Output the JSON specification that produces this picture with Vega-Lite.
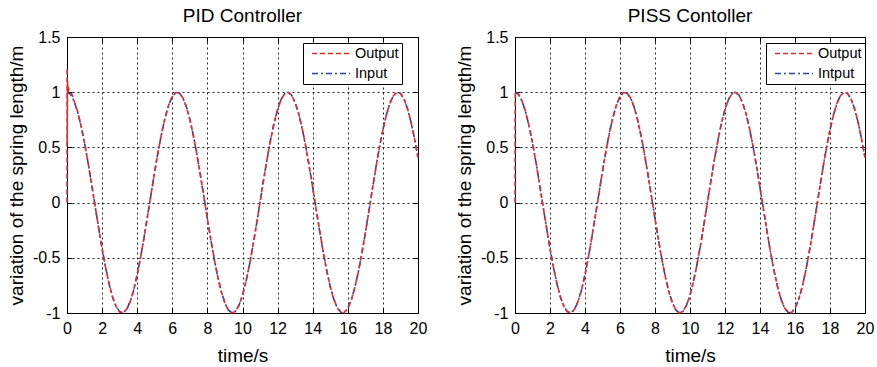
{
  "$schema": "https://vega.github.io/schema/vega-lite/v6.json",
  "autosize": {"type": "pad"},
  "padding": {"left": 6, "top": 6, "right": 3, "bottom": 4},
  "background": "white",
  "bounds": "flush",
  "spacing": 97,
  "config": {
    "font": "Liberation Sans",
    "view": {"stroke": "black", "strokeWidth": 1},
    "axis": {
      "labelFont": "Liberation Sans",
      "labelFontSize": 16,
      "labelColor": "black",
      "labelFlush": false,
      "labelExpr": "'' + datum.value",
      "titleFont": "Liberation Sans",
      "titleFontSize": 19,
      "titleFontWeight": "normal",
      "titleColor": "black",
      "domainColor": "black",
      "tickColor": "black",
      "tickSize": -5,
      "gridColor": "#222222",
      "gridDash": [2, 3],
      "gridWidth": 1,
      "labelPadding": 12
    },
    "legend": {
      "title": null,
      "symbolType": "stroke",
      "symbolSize": 1444,
      "symbolStrokeWidth": 1.6,
      "symbolOffset": 5,
      "clipHeight": 15,
      "labelFont": "Liberation Sans",
      "labelFontSize": 14.5,
      "labelColor": "black",
      "labelOffset": 4,
      "strokeColor": "black",
      "fillColor": "white",
      "padding": 3,
      "rowPadding": 4
    },
    "title": {"font": "Liberation Sans", "fontSize": 19, "fontWeight": "normal", "color": "black", "offset": 3}
  },
  "datasets": {
    "input": [
      {"t":0,"y":1},{"t":0.2,"y":0.98},{"t":0.4,"y":0.921},{"t":0.6,"y":0.825},{"t":0.8,"y":0.697},
      {"t":1,"y":0.54},{"t":1.2,"y":0.362},{"t":1.4,"y":0.17},{"t":1.6,"y":-0.029},{"t":1.8,"y":-0.227},
      {"t":2,"y":-0.416},{"t":2.2,"y":-0.589},{"t":2.4,"y":-0.737},{"t":2.6,"y":-0.857},{"t":2.8,"y":-0.942},
      {"t":3,"y":-0.99},{"t":3.2,"y":-0.998},{"t":3.4,"y":-0.967},{"t":3.6,"y":-0.897},{"t":3.8,"y":-0.791},
      {"t":4,"y":-0.654},{"t":4.2,"y":-0.49},{"t":4.4,"y":-0.307},{"t":4.6,"y":-0.112},{"t":4.8,"y":0.087},
      {"t":5,"y":0.284},{"t":5.2,"y":0.469},{"t":5.4,"y":0.635},{"t":5.6,"y":0.776},{"t":5.8,"y":0.886},
      {"t":6,"y":0.96},{"t":6.2,"y":0.997},{"t":6.4,"y":0.993},{"t":6.6,"y":0.95},{"t":6.8,"y":0.869},
      {"t":7,"y":0.754},{"t":7.2,"y":0.608},{"t":7.4,"y":0.439},{"t":7.6,"y":0.251},{"t":7.8,"y":0.054},
      {"t":8,"y":-0.146},{"t":8.2,"y":-0.339},{"t":8.4,"y":-0.519},{"t":8.6,"y":-0.679},{"t":8.8,"y":-0.811},
      {"t":9,"y":-0.911},{"t":9.2,"y":-0.975},{"t":9.4,"y":-1},{"t":9.6,"y":-0.985},{"t":9.8,"y":-0.93},
      {"t":10,"y":-0.839},{"t":10.2,"y":-0.714},{"t":10.4,"y":-0.561},{"t":10.6,"y":-0.386},{"t":10.8,"y":-0.195},
      {"t":11,"y":0.004},{"t":11.2,"y":0.203},{"t":11.4,"y":0.394},{"t":11.6,"y":0.568},{"t":11.8,"y":0.721},
      {"t":12,"y":0.844},{"t":12.2,"y":0.934},{"t":12.4,"y":0.986},{"t":12.6,"y":0.999},{"t":12.8,"y":0.973},
      {"t":13,"y":0.907},{"t":13.2,"y":0.806},{"t":13.4,"y":0.672},{"t":13.6,"y":0.512},{"t":13.8,"y":0.331},
      {"t":14,"y":0.137},{"t":14.2,"y":-0.063},{"t":14.4,"y":-0.26},{"t":14.6,"y":-0.447},{"t":14.8,"y":-0.616},
      {"t":15,"y":-0.76},{"t":15.2,"y":-0.874},{"t":15.4,"y":-0.953},{"t":15.6,"y":-0.994},{"t":15.8,"y":-0.996},
      {"t":16,"y":-0.958},{"t":16.2,"y":-0.881},{"t":16.4,"y":-0.77},{"t":16.6,"y":-0.628},{"t":16.8,"y":-0.461},
      {"t":17,"y":-0.275},{"t":17.2,"y":-0.079},{"t":17.4,"y":0.121},{"t":17.6,"y":0.316},{"t":17.8,"y":0.498},
      {"t":18,"y":0.66},{"t":18.2,"y":0.796},{"t":18.4,"y":0.901},{"t":18.6,"y":0.969},{"t":18.8,"y":0.999},
      {"t":19,"y":0.989},{"t":19.2,"y":0.939},{"t":19.4,"y":0.852},{"t":19.6,"y":0.731},{"t":19.8,"y":0.581},
      {"t":20,"y":0.408}
    ],
    "pidOutput": [
      {"t":0,"y":0},{"t":0.005,"y":1.22},{"t":0.015,"y":0.55},{"t":0.03,"y":1.1},{"t":0.06,"y":1.0},
      {"t":0.1,"y":1.03},{"t":0.2,"y":1.0},{"t":0.3,"y":0.975},{"t":0.4,"y":0.925},{"t":0.6,"y":0.825},{"t":0.8,"y":0.697},
      {"t":1,"y":0.54},{"t":1.2,"y":0.362},{"t":1.4,"y":0.17},{"t":1.6,"y":-0.029},{"t":1.8,"y":-0.227},
      {"t":2,"y":-0.416},{"t":2.2,"y":-0.589},{"t":2.4,"y":-0.737},{"t":2.6,"y":-0.857},{"t":2.8,"y":-0.942},
      {"t":3,"y":-0.99},{"t":3.2,"y":-0.998},{"t":3.4,"y":-0.967},{"t":3.6,"y":-0.897},{"t":3.8,"y":-0.791},
      {"t":4,"y":-0.654},{"t":4.2,"y":-0.49},{"t":4.4,"y":-0.307},{"t":4.6,"y":-0.112},{"t":4.8,"y":0.087},
      {"t":5,"y":0.284},{"t":5.2,"y":0.469},{"t":5.4,"y":0.635},{"t":5.6,"y":0.776},{"t":5.8,"y":0.886},
      {"t":6,"y":0.96},{"t":6.2,"y":0.997},{"t":6.4,"y":0.993},{"t":6.6,"y":0.95},{"t":6.8,"y":0.869},
      {"t":7,"y":0.754},{"t":7.2,"y":0.608},{"t":7.4,"y":0.439},{"t":7.6,"y":0.251},{"t":7.8,"y":0.054},
      {"t":8,"y":-0.146},{"t":8.2,"y":-0.339},{"t":8.4,"y":-0.519},{"t":8.6,"y":-0.679},{"t":8.8,"y":-0.811},
      {"t":9,"y":-0.911},{"t":9.2,"y":-0.975},{"t":9.4,"y":-1},{"t":9.6,"y":-0.985},{"t":9.8,"y":-0.93},
      {"t":10,"y":-0.839},{"t":10.2,"y":-0.714},{"t":10.4,"y":-0.561},{"t":10.6,"y":-0.386},{"t":10.8,"y":-0.195},
      {"t":11,"y":0.004},{"t":11.2,"y":0.203},{"t":11.4,"y":0.394},{"t":11.6,"y":0.568},{"t":11.8,"y":0.721},
      {"t":12,"y":0.844},{"t":12.2,"y":0.934},{"t":12.4,"y":0.986},{"t":12.6,"y":0.999},{"t":12.8,"y":0.973},
      {"t":13,"y":0.907},{"t":13.2,"y":0.806},{"t":13.4,"y":0.672},{"t":13.6,"y":0.512},{"t":13.8,"y":0.331},
      {"t":14,"y":0.137},{"t":14.2,"y":-0.063},{"t":14.4,"y":-0.26},{"t":14.6,"y":-0.447},{"t":14.8,"y":-0.616},
      {"t":15,"y":-0.76},{"t":15.2,"y":-0.874},{"t":15.4,"y":-0.953},{"t":15.6,"y":-0.994},{"t":15.8,"y":-0.996},
      {"t":16,"y":-0.958},{"t":16.2,"y":-0.881},{"t":16.4,"y":-0.77},{"t":16.6,"y":-0.628},{"t":16.8,"y":-0.461},
      {"t":17,"y":-0.275},{"t":17.2,"y":-0.079},{"t":17.4,"y":0.121},{"t":17.6,"y":0.316},{"t":17.8,"y":0.498},
      {"t":18,"y":0.66},{"t":18.2,"y":0.796},{"t":18.4,"y":0.901},{"t":18.6,"y":0.969},{"t":18.8,"y":0.999},
      {"t":19,"y":0.989},{"t":19.2,"y":0.939},{"t":19.4,"y":0.852},{"t":19.6,"y":0.731},{"t":19.8,"y":0.581},
      {"t":20,"y":0.408}
    ],
    "pissOutput": [
      {"t":0,"y":0},{"t":0.01,"y":1.0},{"t":0.2,"y":0.98},{"t":0.4,"y":0.921},{"t":0.6,"y":0.825},{"t":0.8,"y":0.697},
      {"t":1,"y":0.54},{"t":1.2,"y":0.362},{"t":1.4,"y":0.17},{"t":1.6,"y":-0.029},{"t":1.8,"y":-0.227},
      {"t":2,"y":-0.416},{"t":2.2,"y":-0.589},{"t":2.4,"y":-0.737},{"t":2.6,"y":-0.857},{"t":2.8,"y":-0.942},
      {"t":3,"y":-0.99},{"t":3.2,"y":-0.998},{"t":3.4,"y":-0.967},{"t":3.6,"y":-0.897},{"t":3.8,"y":-0.791},
      {"t":4,"y":-0.654},{"t":4.2,"y":-0.49},{"t":4.4,"y":-0.307},{"t":4.6,"y":-0.112},{"t":4.8,"y":0.087},
      {"t":5,"y":0.284},{"t":5.2,"y":0.469},{"t":5.4,"y":0.635},{"t":5.6,"y":0.776},{"t":5.8,"y":0.886},
      {"t":6,"y":0.96},{"t":6.2,"y":0.997},{"t":6.4,"y":0.993},{"t":6.6,"y":0.95},{"t":6.8,"y":0.869},
      {"t":7,"y":0.754},{"t":7.2,"y":0.608},{"t":7.4,"y":0.439},{"t":7.6,"y":0.251},{"t":7.8,"y":0.054},
      {"t":8,"y":-0.146},{"t":8.2,"y":-0.339},{"t":8.4,"y":-0.519},{"t":8.6,"y":-0.679},{"t":8.8,"y":-0.811},
      {"t":9,"y":-0.911},{"t":9.2,"y":-0.975},{"t":9.4,"y":-1},{"t":9.6,"y":-0.985},{"t":9.8,"y":-0.93},
      {"t":10,"y":-0.839},{"t":10.2,"y":-0.714},{"t":10.4,"y":-0.561},{"t":10.6,"y":-0.386},{"t":10.8,"y":-0.195},
      {"t":11,"y":0.004},{"t":11.2,"y":0.203},{"t":11.4,"y":0.394},{"t":11.6,"y":0.568},{"t":11.8,"y":0.721},
      {"t":12,"y":0.844},{"t":12.2,"y":0.934},{"t":12.4,"y":0.986},{"t":12.6,"y":0.999},{"t":12.8,"y":0.973},
      {"t":13,"y":0.907},{"t":13.2,"y":0.806},{"t":13.4,"y":0.672},{"t":13.6,"y":0.512},{"t":13.8,"y":0.331},
      {"t":14,"y":0.137},{"t":14.2,"y":-0.063},{"t":14.4,"y":-0.26},{"t":14.6,"y":-0.447},{"t":14.8,"y":-0.616},
      {"t":15,"y":-0.76},{"t":15.2,"y":-0.874},{"t":15.4,"y":-0.953},{"t":15.6,"y":-0.994},{"t":15.8,"y":-0.996},
      {"t":16,"y":-0.958},{"t":16.2,"y":-0.881},{"t":16.4,"y":-0.77},{"t":16.6,"y":-0.628},{"t":16.8,"y":-0.461},
      {"t":17,"y":-0.275},{"t":17.2,"y":-0.079},{"t":17.4,"y":0.121},{"t":17.6,"y":0.316},{"t":17.8,"y":0.498},
      {"t":18,"y":0.66},{"t":18.2,"y":0.796},{"t":18.4,"y":0.901},{"t":18.6,"y":0.969},{"t":18.8,"y":0.999},
      {"t":19,"y":0.989},{"t":19.2,"y":0.939},{"t":19.4,"y":0.852},{"t":19.6,"y":0.731},{"t":19.8,"y":0.581},
      {"t":20,"y":0.408}
    ]
  },
  "resolve": {
    "scale": {"color": "independent", "strokeDash": "independent"},
    "legend": {"color": "independent", "strokeDash": "independent"}
  },
  "hconcat": [
    {
      "width": 351,
      "height": 276,
      "title": {"text": "PID Controller"},
      "layer": [
        {
          "data": {"name": "input"},
          "mark": {"type": "line", "strokeWidth": 1.6},
          "encoding": {
            "x": {"field": "t", "type": "quantitative", "scale": {"domain": [0, 20], "nice": false},
                  "axis": {"title": "time/s", "values": [0, 2, 4, 6, 8, 10, 12, 14, 16, 18, 20], "grid": true, "titlePadding": 10}},
            "y": {"field": "y", "type": "quantitative", "scale": {"domain": [-1, 1.5], "nice": false},
                  "axis": {"title": "variation of the spring length/m", "values": [-1, -0.5, 0, 0.5, 1, 1.5], "grid": true, "titlePadding": 6}},
            "color": {"datum": "Input", "scale": {"domain": ["Output", "Input"], "range": ["#e62b2b", "#2e3fae"]},
                      "legend": {"orient": "none", "legendX": 236, "legendY": 6}},
            "strokeDash": {"datum": "Input", "scale": {"domain": ["Output", "Input"], "range": [[5, 3], [6, 3, 2, 3]]},
                           "legend": {"orient": "none", "legendX": 236, "legendY": 6}}
          }
        },
        {
          "data": {"name": "pidOutput"},
          "mark": {"type": "line", "strokeWidth": 1.6},
          "encoding": {
            "x": {"field": "t", "type": "quantitative", "scale": {"domain": [0, 20], "nice": false}, "axis": null},
            "y": {"field": "y", "type": "quantitative", "scale": {"domain": [-1, 1.5], "nice": false}, "axis": null},
            "color": {"datum": "Output"},
            "strokeDash": {"datum": "Output"}
          }
        },
        {
          "data": {"name": "input"},
          "mark": {"type": "line", "opacity": 0},
          "encoding": {
            "x": {"field": "t", "type": "quantitative", "scale": {"domain": [0, 20], "nice": false},
                  "axis": {"orient": "top", "labels": false, "title": null, "grid": false, "values": [0, 2, 4, 6, 8, 10, 12, 14, 16, 18, 20]}},
            "y": {"field": "y", "type": "quantitative", "scale": {"domain": [-1, 1.5], "nice": false},
                  "axis": {"orient": "right", "labels": false, "title": null, "grid": false, "values": [-1, -0.5, 0, 0.5, 1, 1.5]}}
          }
        }
      ],
      "resolve": {"scale": {"x": "independent", "y": "independent"}}
    },
    {
      "width": 350,
      "height": 276,
      "title": {"text": "PISS Contoller"},
      "layer": [
        {
          "data": {"name": "input"},
          "mark": {"type": "line", "strokeWidth": 1.6},
          "encoding": {
            "x": {"field": "t", "type": "quantitative", "scale": {"domain": [0, 20], "nice": false},
                  "axis": {"title": "time/s", "values": [0, 2, 4, 6, 8, 10, 12, 14, 16, 18, 20], "grid": true, "titlePadding": 10}},
            "y": {"field": "y", "type": "quantitative", "scale": {"domain": [-1, 1.5], "nice": false},
                  "axis": {"title": "variation of the spring length/m", "values": [-1, -0.5, 0, 0.5, 1, 1.5], "grid": true, "titlePadding": 6}},
            "color": {"datum": "Intput", "scale": {"domain": ["Output", "Intput"], "range": ["#e62b2b", "#2e3fae"]},
                      "legend": {"orient": "none", "legendX": 251, "legendY": 6}},
            "strokeDash": {"datum": "Intput", "scale": {"domain": ["Output", "Intput"], "range": [[5, 3], [6, 3, 2, 3]]},
                           "legend": {"orient": "none", "legendX": 251, "legendY": 6}}
          }
        },
        {
          "data": {"name": "pissOutput"},
          "mark": {"type": "line", "strokeWidth": 1.6},
          "encoding": {
            "x": {"field": "t", "type": "quantitative", "scale": {"domain": [0, 20], "nice": false}, "axis": null},
            "y": {"field": "y", "type": "quantitative", "scale": {"domain": [-1, 1.5], "nice": false}, "axis": null},
            "color": {"datum": "Output"},
            "strokeDash": {"datum": "Output"}
          }
        },
        {
          "data": {"name": "input"},
          "mark": {"type": "line", "opacity": 0},
          "encoding": {
            "x": {"field": "t", "type": "quantitative", "scale": {"domain": [0, 20], "nice": false},
                  "axis": {"orient": "top", "labels": false, "title": null, "grid": false, "values": [0, 2, 4, 6, 8, 10, 12, 14, 16, 18, 20]}},
            "y": {"field": "y", "type": "quantitative", "scale": {"domain": [-1, 1.5], "nice": false},
                  "axis": {"orient": "right", "labels": false, "title": null, "grid": false, "values": [-1, -0.5, 0, 0.5, 1, 1.5]}}
          }
        }
      ],
      "resolve": {"scale": {"x": "independent", "y": "independent"}}
    }
  ]
}
